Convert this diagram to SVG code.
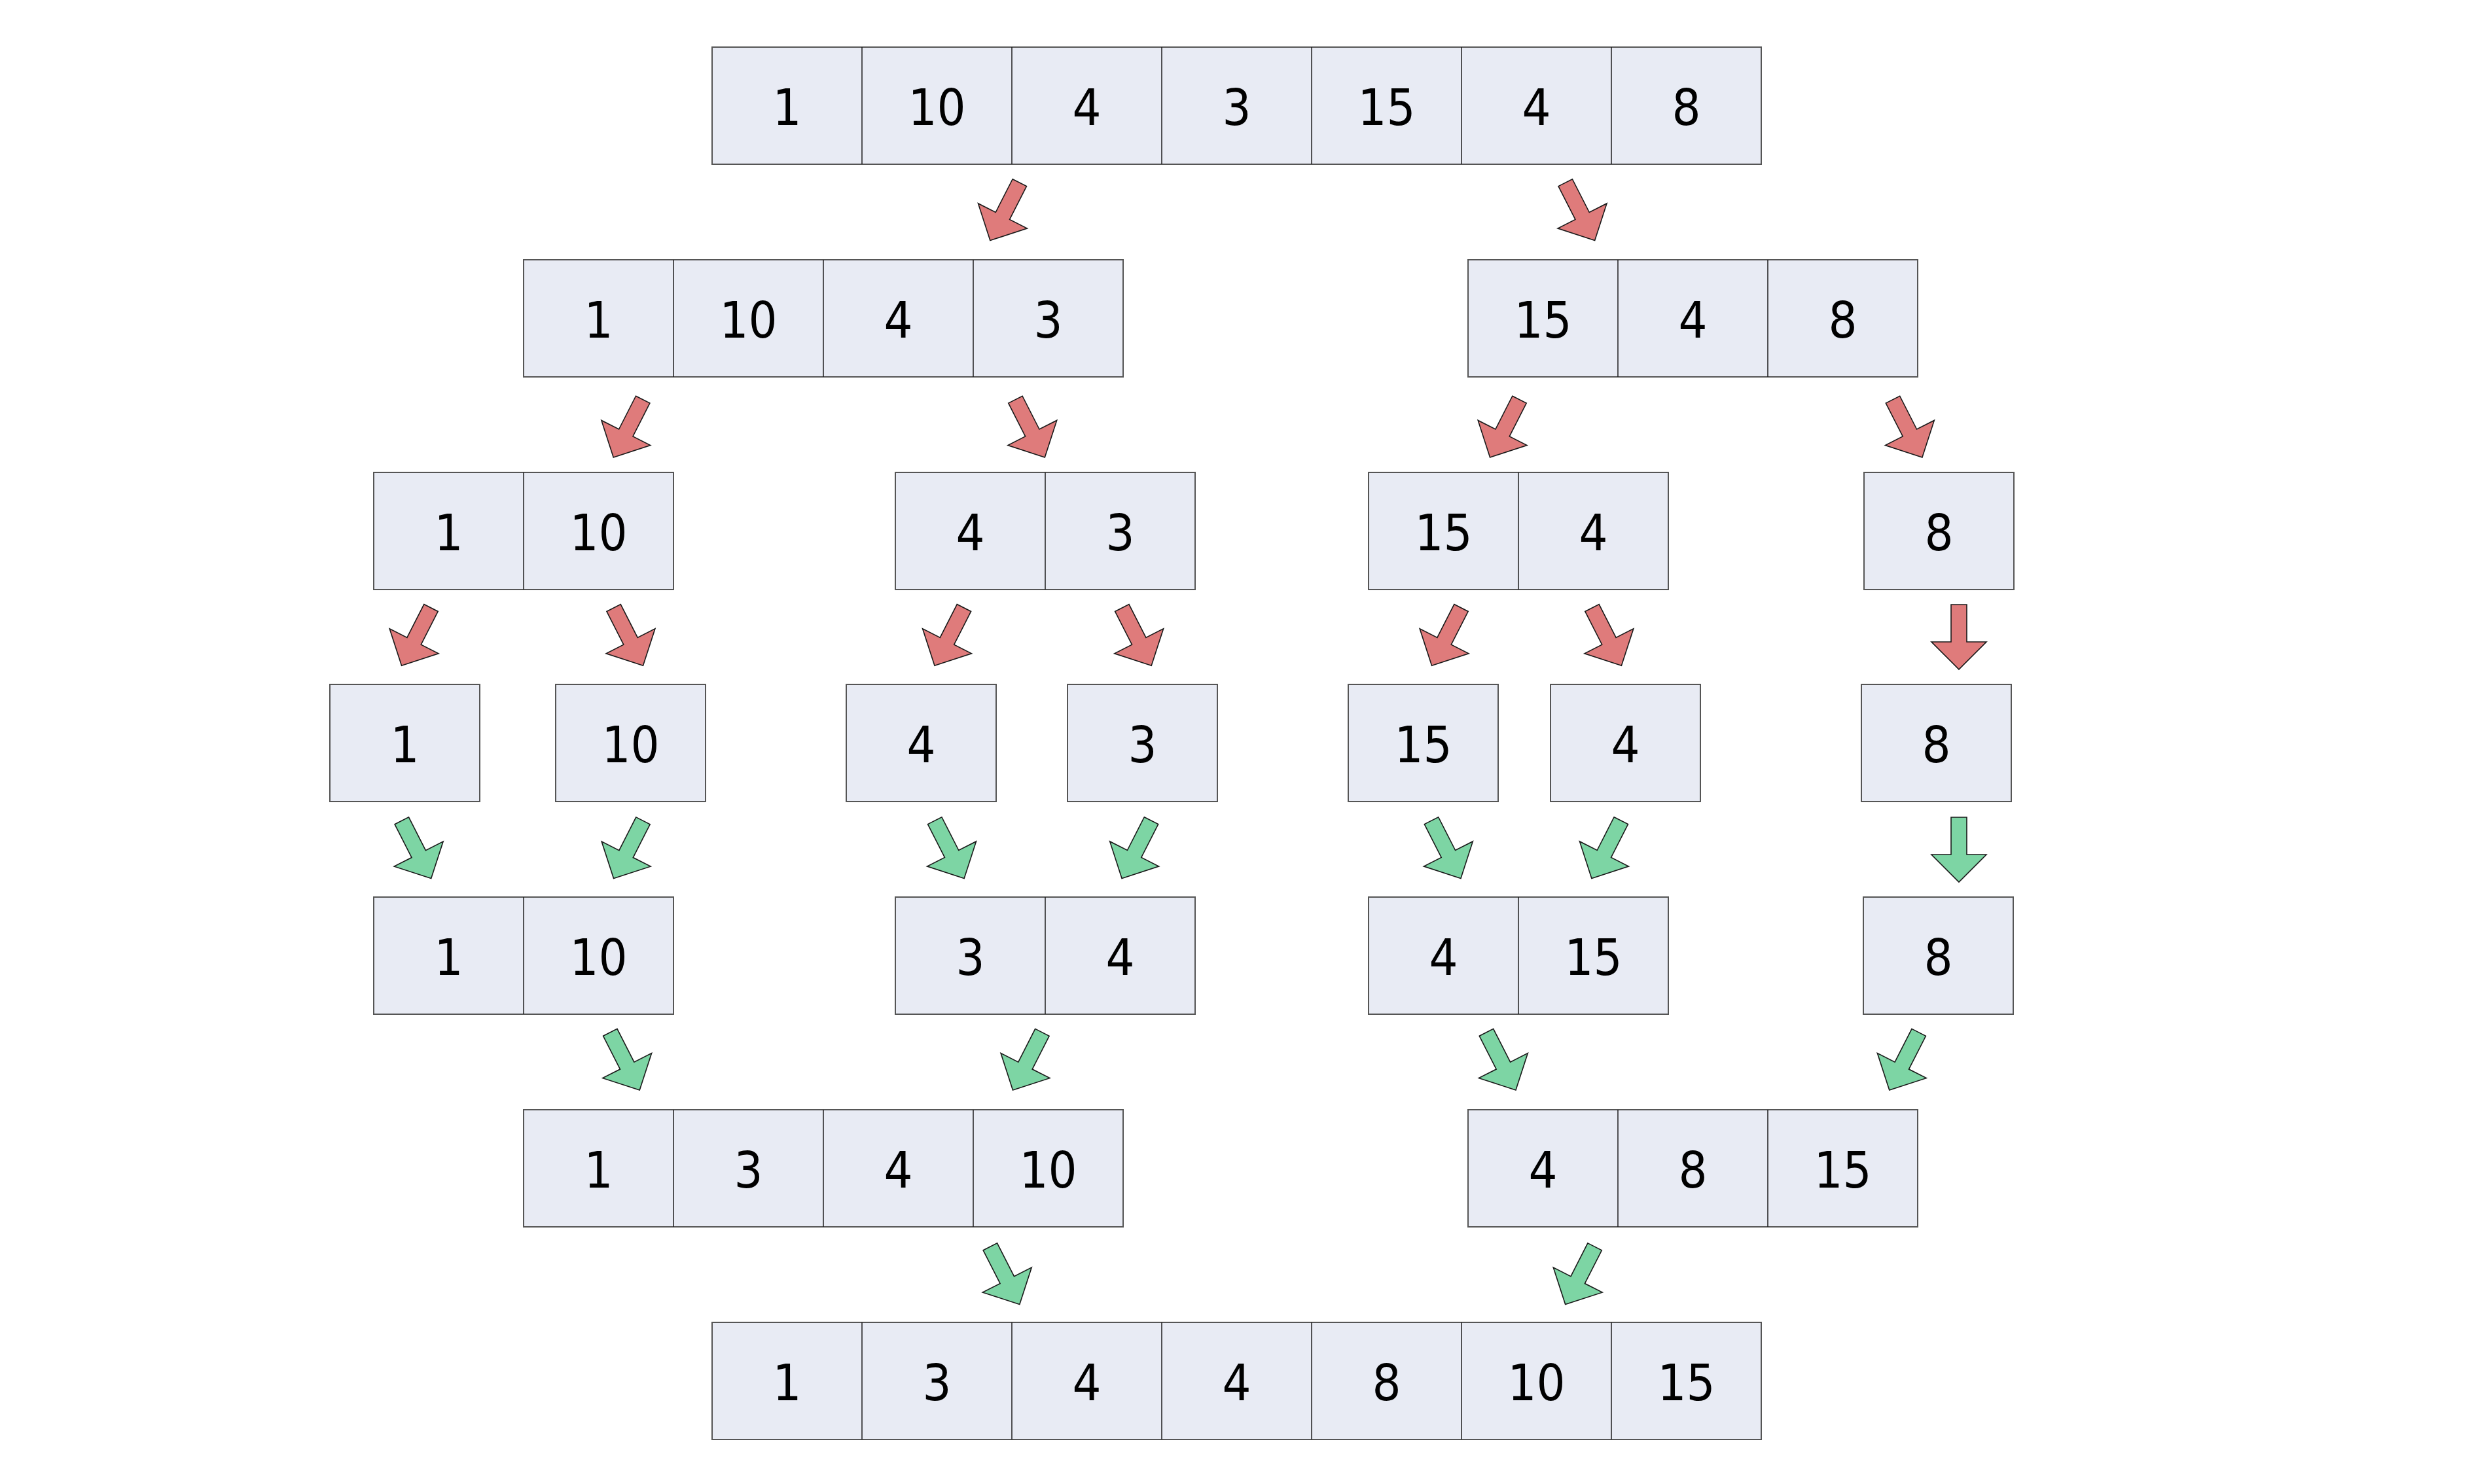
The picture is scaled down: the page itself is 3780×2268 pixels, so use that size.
<svg xmlns="http://www.w3.org/2000/svg" xmlns:xlink="http://www.w3.org/1999/xlink" width="3780" height="2268" viewBox="0 0 3780 2268">
<style>
.box{fill:#E8EBF4;stroke:#555;stroke-width:2}
.div{stroke:#1e1e1e;stroke-width:1.5}
.t{font-family:"DejaVu Sans Condensed","DejaVu Sans","Liberation Sans",sans-serif;font-stretch:condensed;font-size:77px;fill:#000;text-anchor:middle}
.red{fill:#DF7B7B;stroke:#1a1a1a;stroke-width:1.6;stroke-linejoin:miter}
.green{fill:#7DD5A4;stroke:#1a1a1a;stroke-width:1.6;stroke-linejoin:miter}
</style>
<defs>
<polygon id="arr" points="-12,0 12,0 12,57 42,57 0,99 -42,57 -12,57"/>
</defs>
<rect width="3780" height="2268" fill="#fff"/>

<g id="row1">
<rect class="box" x="1088" y="72" width="1603" height="179"/>
<path class="div" d="M1317 72V251M1546 72V251M1775 72V251M2004 72V251M2233 72V251M2462 72V251"/>
<text class="t" x="1202.5" y="191">1</text><text class="t" x="1431.5" y="191">10</text><text class="t" x="1660.5" y="191">4</text><text class="t" x="1889.5" y="191">3</text><text class="t" x="2118.5" y="191">15</text><text class="t" x="2347.5" y="191">4</text><text class="t" x="2576.5" y="191">8</text>
</g>

<g id="row2-left">
<rect class="box" x="800" y="397" width="916" height="179"/>
<path class="div" d="M1029 397V576M1258 397V576M1487 397V576"/>
<text class="t" x="914.5" y="516">1</text><text class="t" x="1143.5" y="516">10</text><text class="t" x="1372.5" y="516">4</text><text class="t" x="1601.5" y="516">3</text>
</g>
<g id="row2-right">
<rect class="box" x="2243" y="397" width="687" height="179"/>
<path class="div" d="M2472 397V576M2701 397V576"/>
<text class="t" x="2357.5" y="516">15</text><text class="t" x="2586.5" y="516">4</text><text class="t" x="2815.5" y="516">8</text>
</g>

<g id="row3-a">
<rect class="box" x="571" y="722" width="458" height="179"/>
<path class="div" d="M800 722V901"/>
<text class="t" x="685.5" y="841">1</text><text class="t" x="914.5" y="841">10</text>
</g>
<g id="row3-b">
<rect class="box" x="1368" y="722" width="458" height="179"/>
<path class="div" d="M1597 722V901"/>
<text class="t" x="1482.5" y="841">4</text><text class="t" x="1711.5" y="841">3</text>
</g>
<g id="row3-c">
<rect class="box" x="2091" y="722" width="458" height="179"/>
<path class="div" d="M2320 722V901"/>
<text class="t" x="2205.5" y="841">15</text><text class="t" x="2434.5" y="841">4</text>
</g>
<g id="row3-d">
<rect class="box" x="2848" y="722" width="229" height="179"/>
<text class="t" x="2962.5" y="841">8</text>
</g>

<g id="row4-a"><rect class="box" x="504" y="1046" width="229" height="179"/><text class="t" x="618.5" y="1165">1</text></g>
<g id="row4-b"><rect class="box" x="849" y="1046" width="229" height="179"/><text class="t" x="963.5" y="1165">10</text></g>
<g id="row4-c"><rect class="box" x="1293" y="1046" width="229" height="179"/><text class="t" x="1407.5" y="1165">4</text></g>
<g id="row4-d"><rect class="box" x="1631" y="1046" width="229" height="179"/><text class="t" x="1745.5" y="1165">3</text></g>
<g id="row4-e"><rect class="box" x="2060" y="1046" width="229" height="179"/><text class="t" x="2174.5" y="1165">15</text></g>
<g id="row4-f"><rect class="box" x="2369" y="1046" width="229" height="179"/><text class="t" x="2483.5" y="1165">4</text></g>
<g id="row4-g"><rect class="box" x="2844" y="1046" width="229" height="179"/><text class="t" x="2958.5" y="1165">8</text></g>

<g id="row5-a">
<rect class="box" x="571" y="1371" width="458" height="179"/>
<path class="div" d="M800 1371V1550"/>
<text class="t" x="685.5" y="1490">1</text><text class="t" x="914.5" y="1490">10</text>
</g>
<g id="row5-b">
<rect class="box" x="1368" y="1371" width="458" height="179"/>
<path class="div" d="M1597 1371V1550"/>
<text class="t" x="1482.5" y="1490">3</text><text class="t" x="1711.5" y="1490">4</text>
</g>
<g id="row5-c">
<rect class="box" x="2091" y="1371" width="458" height="179"/>
<path class="div" d="M2320 1371V1550"/>
<text class="t" x="2205.5" y="1490">4</text><text class="t" x="2434.5" y="1490">15</text>
</g>
<g id="row5-d">
<rect class="box" x="2847" y="1371" width="229" height="179"/>
<text class="t" x="2961.5" y="1490">8</text>
</g>

<g id="row6-left">
<rect class="box" x="800" y="1696" width="916" height="179"/>
<path class="div" d="M1029 1696V1875M1258 1696V1875M1487 1696V1875"/>
<text class="t" x="914.5" y="1815">1</text><text class="t" x="1143.5" y="1815">3</text><text class="t" x="1372.5" y="1815">4</text><text class="t" x="1601.5" y="1815">10</text>
</g>
<g id="row6-right">
<rect class="box" x="2243" y="1696" width="687" height="179"/>
<path class="div" d="M2472 1696V1875M2701 1696V1875"/>
<text class="t" x="2357.5" y="1815">4</text><text class="t" x="2586.5" y="1815">8</text><text class="t" x="2815.5" y="1815">15</text>
</g>

<g id="row7">
<rect class="box" x="1088" y="2021" width="1603" height="179"/>
<path class="div" d="M1317 2021V2200M1546 2021V2200M1775 2021V2200M2004 2021V2200M2233 2021V2200M2462 2021V2200"/>
<text class="t" x="1202.5" y="2140">1</text><text class="t" x="1431.5" y="2140">3</text><text class="t" x="1660.5" y="2140">4</text><text class="t" x="1889.5" y="2140">4</text><text class="t" x="2118.5" y="2140">8</text><text class="t" x="2347.5" y="2140">10</text><text class="t" x="2576.5" y="2140">15</text>
</g>

<g id="connectors">
<use xlink:href="#arr" href="#arr" class="red" transform="translate(1557.8,279.2) rotate(27)"/>
<use xlink:href="#arr" href="#arr" class="red" transform="translate(2391.7,279.2) rotate(-27)"/>
<use xlink:href="#arr" href="#arr" class="red" transform="translate(982.2,610.7) rotate(27)"/>
<use xlink:href="#arr" href="#arr" class="red" transform="translate(1551.4,610.7) rotate(-27)"/>
<use xlink:href="#arr" href="#arr" class="red" transform="translate(2321.5,610.7) rotate(27)"/>
<use xlink:href="#arr" href="#arr" class="red" transform="translate(2892,610.7) rotate(-27)"/>
<use xlink:href="#arr" href="#arr" class="red" transform="translate(658.5,929) rotate(27)"/>
<use xlink:href="#arr" href="#arr" class="red" transform="translate(937.6,929) rotate(-27)"/>
<use xlink:href="#arr" href="#arr" class="red" transform="translate(1472.9,929) rotate(27)"/>
<use xlink:href="#arr" href="#arr" class="red" transform="translate(1714.3,929) rotate(-27)"/>
<use xlink:href="#arr" href="#arr" class="red" transform="translate(2232.5,929) rotate(27)"/>
<use xlink:href="#arr" href="#arr" class="red" transform="translate(2432.5,929) rotate(-27)"/>
<use xlink:href="#arr" href="#arr" class="red" transform="translate(2993,924)"/>
<use xlink:href="#arr" href="#arr" class="green" transform="translate(613.8,1254.3) rotate(-27)"/>
<use xlink:href="#arr" href="#arr" class="green" transform="translate(982.5,1254.3) rotate(27)"/>
<use xlink:href="#arr" href="#arr" class="green" transform="translate(1428.2,1254.2) rotate(-27)"/>
<use xlink:href="#arr" href="#arr" class="green" transform="translate(1759,1254.2) rotate(27)"/>
<use xlink:href="#arr" href="#arr" class="green" transform="translate(2187,1254.2) rotate(-27)"/>
<use xlink:href="#arr" href="#arr" class="green" transform="translate(2476.8,1254.2) rotate(27)"/>
<use xlink:href="#arr" href="#arr" class="green" transform="translate(2993,1249)"/>
<use xlink:href="#arr" href="#arr" class="green" transform="translate(932.3,1577.8) rotate(-27)"/>
<use xlink:href="#arr" href="#arr" class="green" transform="translate(1592.4,1577.8) rotate(27)"/>
<use xlink:href="#arr" href="#arr" class="green" transform="translate(2271,1577.8) rotate(-27)"/>
<use xlink:href="#arr" href="#arr" class="green" transform="translate(2931.7,1577.8) rotate(27)"/>
<use xlink:href="#arr" href="#arr" class="green" transform="translate(1512.9,1905.3) rotate(-27)"/>
<use xlink:href="#arr" href="#arr" class="green" transform="translate(2436.6,1905.3) rotate(27)"/>
</g>
</svg>
